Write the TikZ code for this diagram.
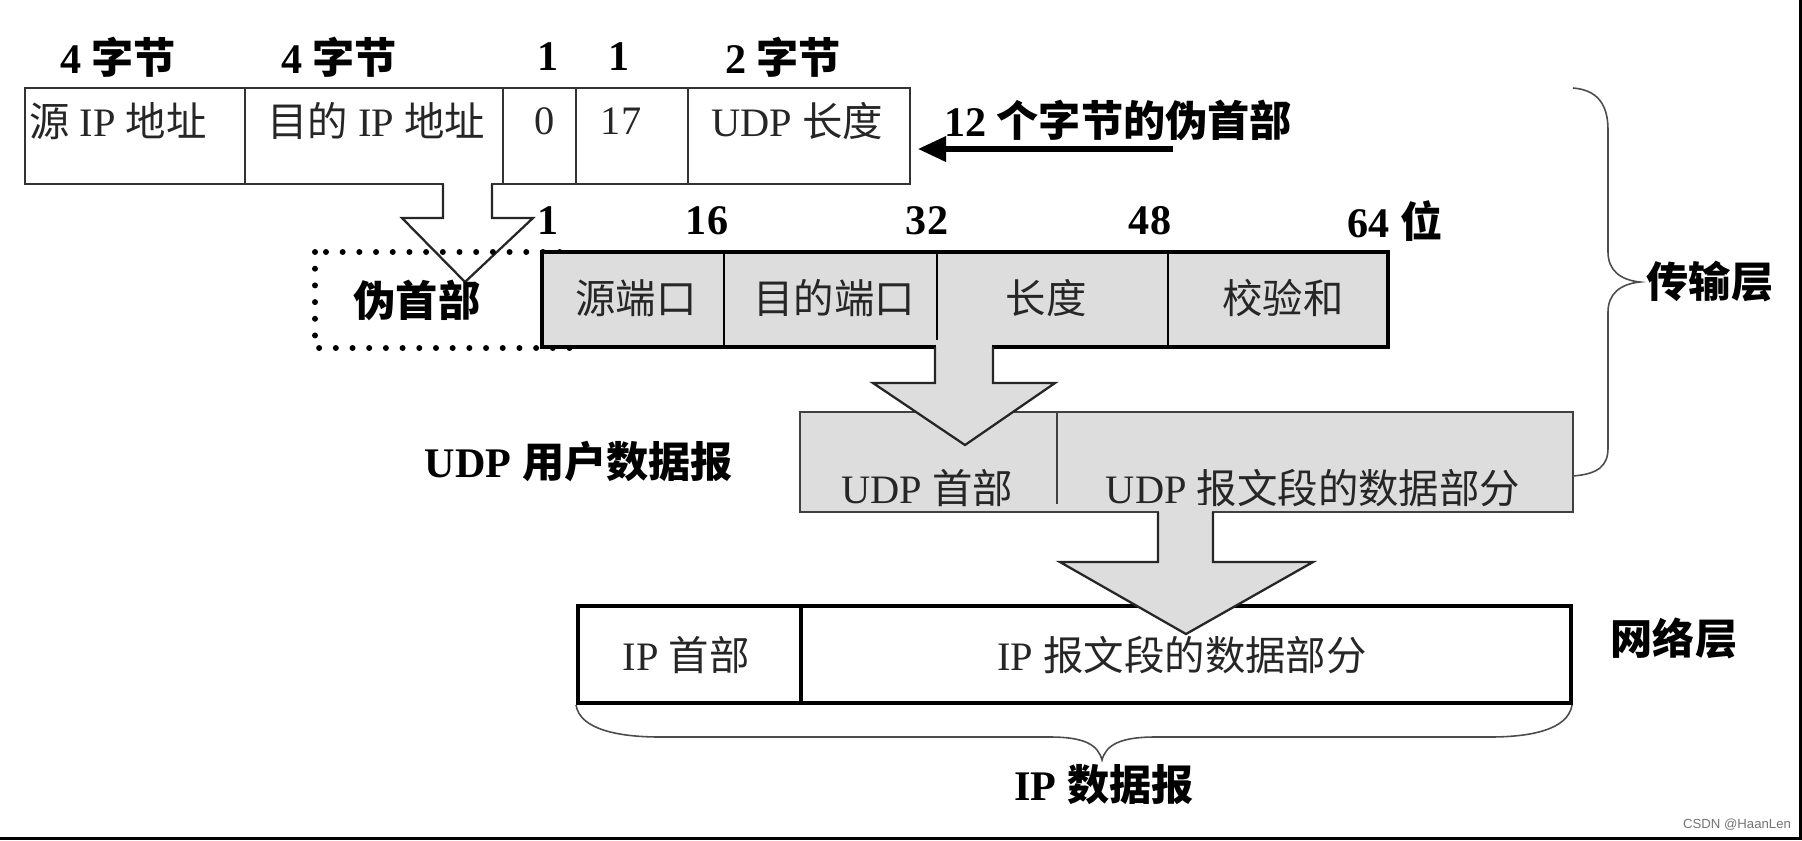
\documentclass[tikz,border=0pt]{standalone}
\usepackage{fontspec}
\setmainfont{Liberation Serif}
\setsansfont{Liberation Sans}
\newfontfamily\cjk{Noto Sans CJK SC}
\newcommand\zh[1]{{\cjk #1}}
\usetikzlibrary{arrows.meta}
\definecolor{boxgrey}{RGB}{221,221,221}

\begin{document}
\begin{tikzpicture}[x=0.02cm, y=-0.02cm,
  txt/.style={font=\fontsize{23}{26}\selectfont, text=black!85, inner sep=0pt},
  lbl/.style={font=\fontsize{24}{28}\selectfont\bfseries, inner sep=0pt},
  thinbox/.style={draw=black!80, line width=1.1pt},
  blockarrow/.style={draw=black!85, line width=1.3pt, line join=miter},
  brace/.style={draw=black!70, line width=0.9pt}]

\useasboundingbox (0,0) rectangle (1802,840);

% 12-byte pseudo header
\draw[thinbox] (25,88) rectangle (910,184);
\foreach \x in {245,503,576,688} \draw[thinbox] (\x,88) -- (\x,184);
\node[lbl] (b1) at (118,57) {4 \zh{字节}};
\node[lbl] (b2) at (339,57) {4 \zh{字节}};
\node[lbl] (b3) at (548,57) {1};
\node[lbl] (b4) at (619,57) {1};
\node[lbl] (b5) at (783,57) {2 \zh{字节}};
\node[txt] (srcip) at (118,121) {\zh{源} IP \zh{地址}};
\node[txt] (dstip) at (376,121) {\zh{目的} IP \zh{地址}};
\node[txt] (zero) at (545,121) {0};
\node[txt] (proto) at (621,121) {17};
\node[txt] (udplen) at (797,121) {UDP \zh{长度}};
\node[lbl] (pseudo) at (1118,120) {12 \zh{个字节的伪首部}};
\coordinate (ptail) at (1173,149);
\coordinate (phead) at (918,149);
\draw[line width=3pt, -{Triangle[length=16pt,width=14pt]}] (ptail) -- (phead);

% open arrow into the dotted box
\fill[white] (444,182) rectangle (491,190);
\draw[blockarrow, fill=white] (443,184) -- (443,218) -- (402,218) -- (465,282)
  -- (533,218) -- (492,218) -- (492,184);
\draw[line width=3.4pt, line cap=round, dash pattern=on 0pt off 9.5pt]
  (315,252) rectangle (575,348);
\node[lbl] (pshdr) at (417,300) {\zh{伪首部}};

% UDP header
\draw[fill=boxgrey, line width=2.3pt] (542,252) rectangle (1388,347);
\foreach \x in {724,937,1168} \draw[line width=0.9pt] (\x,252) -- (\x,347);
\node[lbl] (n1) at (548,221) {1};
\node[lbl] (n16) at (707,221) {16};
\node[lbl] (n32) at (927,221) {32};
\node[lbl] (n48) at (1150,221) {48};
\node[lbl] (n64) at (1395,221) {64 \zh{位}};
\node[txt] (sport) at (636,298) {\zh{源端口}};
\node[txt] (dport) at (834,298) {\zh{目的端口}};
\node[txt] (ulen) at (1046,298) {\zh{长度}};
\node[txt] (csum) at (1283,298) {\zh{校验和}};

% UDP datagram
\draw[fill=boxgrey, draw=black!75, line width=1.1pt] (800,412) rectangle (1573,512);
\draw[draw=black!75, line width=1.1pt] (1057,412) -- (1057,504);
\node[lbl] (udpdg) at (579,462) {UDP \zh{用户数据报}};
\fill[boxgrey] (936,340) rectangle (992,350);
\draw[blockarrow, fill=boxgrey] (935,347) -- (935,383) -- (873,383) -- (965,445)
  -- (1055,383) -- (993,383) -- (993,347);
\node[txt] (udph) at (927,488) {UDP \zh{首部}};
\node[txt] (udpd) at (1313,488) {UDP \zh{报文段的数据部分}};

% IP datagram
\draw[fill=white, line width=2.8pt] (578,606) rectangle (1571,703);
\draw[line width=2.8pt] (801,606) -- (801,703);
\fill[boxgrey] (1159,505) rectangle (1212,516);
\draw[blockarrow, fill=boxgrey] (1158,512) -- (1158,562) -- (1060,562) -- (1186,634)
  -- (1313,562) -- (1213,562) -- (1213,512);
\node[txt] (iph) at (686,655) {IP \zh{首部}};
\node[txt] (ipd) at (1182,655) {IP \zh{报文段的数据部分}};
\node[lbl] (netl) at (1674,638) {\zh{网络层}};

% braces
\draw[brace] (576,705) .. controls (580,730) and (620,737) .. (660,737) -- (1050,737)
  .. controls (1085,737) and (1098,745) .. (1102,760)
  .. controls (1106,745) and (1120,737) .. (1155,737) -- (1490,737)
  .. controls (1530,737) and (1568,730) .. (1572,705);
\node[lbl] (ipdg) at (1104,785) {IP \zh{数据报}};
\draw[brace] (1573,88) .. controls (1598,90) and (1608,105) .. (1608,130) -- (1608,252)
  .. controls (1608,270) and (1620,280) .. (1640,282)
  .. controls (1620,284) and (1608,294) .. (1608,312) -- (1608,448)
  .. controls (1608,466) and (1598,474) .. (1573,476);
\node[lbl] (transl) at (1710,282) {\zh{传输层}};

\node[font=\sffamily\fontsize{7.5}{9}\selectfont, text=black!55, inner sep=0pt] (mark) at (1737,825) {CSDN @HaanLen};
\fill (1799,0) rectangle (1802,840);
\fill (0,837) rectangle (1802,840);
\end{tikzpicture}
\end{document}
